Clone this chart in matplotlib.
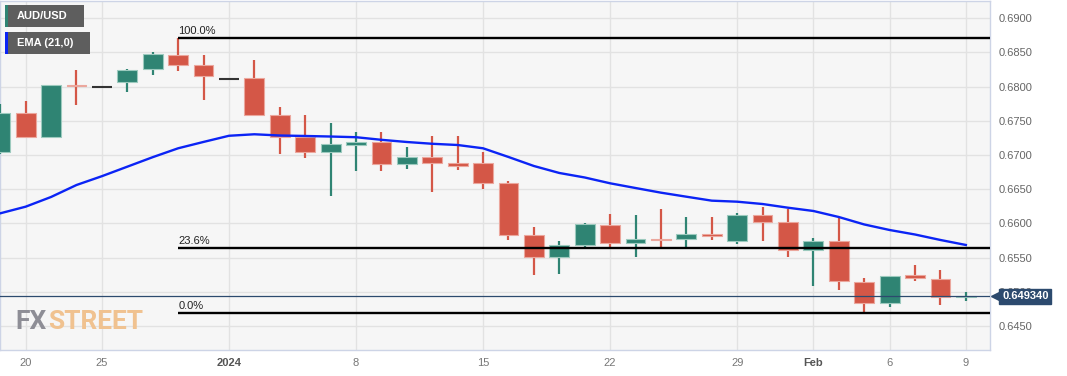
import matplotlib
matplotlib.use('Agg')
import matplotlib.pyplot as plt
from matplotlib.patches import Rectangle
from matplotlib.transforms import blended_transform_factory
import numpy as np

# ---------------------------------------------------------------------------
# AUD/USD daily candles, Dec 19 2023 .. Feb 9 2024 (trading-day index -1..37)
day_index = list(range(-1, 38))
opens = [0.67045, 0.67619, 0.67264, 0.68020, 0.67991, 0.68064, 0.68254, 0.68463,
         0.68317, 0.68108, 0.68123, 0.67581, 0.67260, 0.67049, 0.67143, 0.67195,
         0.66865, 0.66967, 0.66880, 0.66888, 0.66591, 0.65831, 0.65505, 0.65685,
         0.65977, 0.65714, 0.65770, 0.65772, 0.65841, 0.65739, 0.66123, 0.66017,
         0.65612, 0.65739, 0.65148, 0.64832, 0.65242, 0.65192, 0.64920]
highs = [0.67747, 0.67795, 0.68020, 0.68244, 0.67991, 0.68259, 0.68512, 0.68716,
         0.68463, 0.68108, 0.68390, 0.67703, 0.67586, 0.67469, 0.67333, 0.67333,
         0.67118, 0.67279, 0.67279, 0.67045, 0.66621, 0.65948, 0.65743, 0.66006,
         0.66142, 0.66128, 0.66211, 0.66094, 0.66094, 0.66153, 0.66245, 0.66216,
         0.65787, 0.66075, 0.65207, 0.65236, 0.65392, 0.65319, 0.64997]
lows = [0.67011, 0.67264, 0.67245, 0.67736, 0.67991, 0.67927, 0.68175, 0.68229,
        0.67805, 0.68108, 0.67586, 0.67016, 0.66961, 0.66406, 0.66771, 0.66771,
        0.66801, 0.66464, 0.66786, 0.66508, 0.65758, 0.65246, 0.65261, 0.65660,
        0.65655, 0.65509, 0.65645, 0.65645, 0.65762, 0.65704, 0.65743, 0.65509,
        0.65085, 0.65027, 0.64695, 0.64782, 0.65163, 0.64812, 0.64870]
closes = [0.67619, 0.67264, 0.68020, 0.68005, 0.67991, 0.68248, 0.68474, 0.68317,
          0.68156, 0.68108, 0.67586, 0.67269, 0.67049, 0.67162, 0.67187, 0.66865,
          0.66972, 0.66880, 0.66840, 0.66596, 0.65831, 0.65505, 0.65685, 0.65992,
          0.65714, 0.65772, 0.65758, 0.65841, 0.65816, 0.66123, 0.66017, 0.65612,
          0.65739, 0.65163, 0.64832, 0.65236, 0.65202, 0.64929, 0.64934]
ema21 = [0.66148, 0.66245, 0.66387, 0.66562, 0.66691, 0.66830, 0.66969, 0.67099,
         0.67192, 0.67282, 0.67304, 0.67286, 0.67279, 0.67271, 0.67261, 0.67223,
         0.67191, 0.67165, 0.67147, 0.67099, 0.66972, 0.66840, 0.66738, 0.66672,
         0.66587, 0.66518, 0.66450, 0.66391, 0.66333, 0.66318, 0.66284, 0.66230,
         0.66182, 0.66094, 0.65985, 0.65904, 0.65838, 0.65758, 0.65685]

fib_levels = [0.68716, 0.65644, 0.64695]
fib_labels = ['100.0%', '23.6%', '0.0%']
fib_start = 6
last_price = 0.64934

tick_pos = [0, 3, 8, 13, 18, 23, 28, 31, 34, 37]
tick_labels = ['20', '25', '2024', '8', '15', '22', '29', 'Feb', '6', '9']
bold_ticks = ['2024', 'Feb']
price_ticks = [0.6450, 0.6500, 0.6550, 0.6600, 0.6650, 0.6700, 0.6750, 0.6800, 0.6850, 0.6900]

# ---------------------------------------------------------------------------
plt.rcParams['font.family'] = ['Liberation Sans', 'DejaVu Sans']
UP, DOWN = '#2f8473', '#d45747'
UP_EDGE, DOWN_EDGE = '#9ccabe', '#eba79d'
NAVY = '#2c4a6e'

W, H = 1067, 376
fig = plt.figure(figsize=(W / 100, H / 100), dpi=100)
ax = fig.add_axes([0, 1 - 350 / H, 990 / W, 349 / H])
ax.set_facecolor('#f6f6f6')
for spine in ax.spines.values():
    spine.set_color('#cdd4e6')
    spine.set_linewidth(1)

x = np.array(day_index)
o, h, l, c = map(np.array, (opens, highs, lows, closes))
flat = h == l
up = c >= o
cols = np.where(up, UP, DOWN)
edges = np.where(up, UP_EDGE, DOWN_EDGE)

# wicks
ax.vlines(x[~flat], l[~flat], h[~flat], colors=cols[~flat], lw=1.6, zorder=3)
# bodies
body = np.where(np.abs(c - o) < 0.00004, 0.00004, c - o)
ax.bar(x[~flat], body[~flat], bottom=o[~flat], width=0.78, color=cols[~flat],
       edgecolor=edges[~flat], linewidth=0.8, zorder=4)
# holiday sessions (no range)
ax.hlines(c[flat], x[flat] - 0.39, x[flat] + 0.39, colors='#333333', lw=1.5, zorder=4)

# EMA
ax.plot(x, ema21, color='#0b24f5', lw=1.7, zorder=5)

x_min, x_max = -1.01, 37.95
# fibonacci levels
for lev, lab in zip(fib_levels, fib_labels):
    ax.hlines(lev, fib_start, x_max, colors='black', lw=1.7, zorder=6)
    ax.text(fib_start, lev + 0.0003, lab, fontsize=8, color='#222222',
            ha='left', va='bottom', zorder=6)

# last price line + label (covers the 0.6500 tick label, as in the source)
ax.axhline(last_price, color=NAVY, lw=0.9, zorder=6)
tr = blended_transform_factory(ax.transAxes, ax.transData)
ax.text(1002 / 990, last_price, '%.6f' % last_price, transform=tr, fontsize=8,
        fontweight='bold', color='white', ha='left', va='center', zorder=10,
        clip_on=False,
        bbox=dict(boxstyle='square,pad=0.25', fc=NAVY, ec=NAVY))
ax.plot([996 / 990], [last_price], marker='<', ms=7, color=NAVY, mec=NAVY,
        transform=tr, clip_on=False, zorder=10)

ax.set_xlim(x_min, x_max)
ax.set_ylim(0.64149, 0.69253)

ax.set_xticks(tick_pos)
ax.set_xticklabels(tick_labels)
for t in ax.get_xticklabels():
    if t.get_text() in bold_ticks:
        t.set_fontweight('bold')
        t.set_color('#555555')
    else:
        t.set_color('#777777')
ax.yaxis.tick_right()
ax.set_yticks(price_ticks)
ax.set_yticklabels(['%.4f' % v for v in price_ticks])
ax.tick_params(axis='x', length=0, pad=6, labelsize=8)
ax.tick_params(axis='y', length=0, pad=6, labelsize=8, labelcolor='#666666')
ax.grid(True, color='#e2e2e2', lw=1)
ax.set_axisbelow(True)

# legend boxes
def tag(y0, y1, x1, stripe, label):
    fig.add_artist(Rectangle((5 / W, 1 - y1 / H), (x1 - 5) / W, (y1 - y0) / H,
                             transform=fig.transFigure, fc='#5e5e5e', ec='none'))
    fig.add_artist(Rectangle((5 / W, 1 - y1 / H), 2.5 / W, (y1 - y0) / H,
                             transform=fig.transFigure, fc=stripe, ec='none'))
    fig.text(17 / W, 1 - (y0 + y1) / 2 / H, label, fontsize=8, fontweight='bold',
             color='white', ha='left', va='center')

tag(5, 27, 84, UP, 'AUD/USD')
tag(32, 53.7, 90, '#0b24f5', 'EMA (21,0)')

# watermark: "FX" grey + "STREET" orange, placed side by side
renderer = fig.canvas.get_renderer()
wm = dict(fontsize=19, fontweight='bold', family='Roboto', ha='left', va='baseline')
fx = fig.text(15.7 / W, 1 - 329 / H, 'FX', color='#8e8e96', **wm)
fx_end = fx.get_window_extent(renderer).x1
fig.text((fx_end + 1) / W, 1 - 329 / H, 'STREET', color='#f0c290', **wm)

fig.savefig('out.png', dpi=100, facecolor='white')
